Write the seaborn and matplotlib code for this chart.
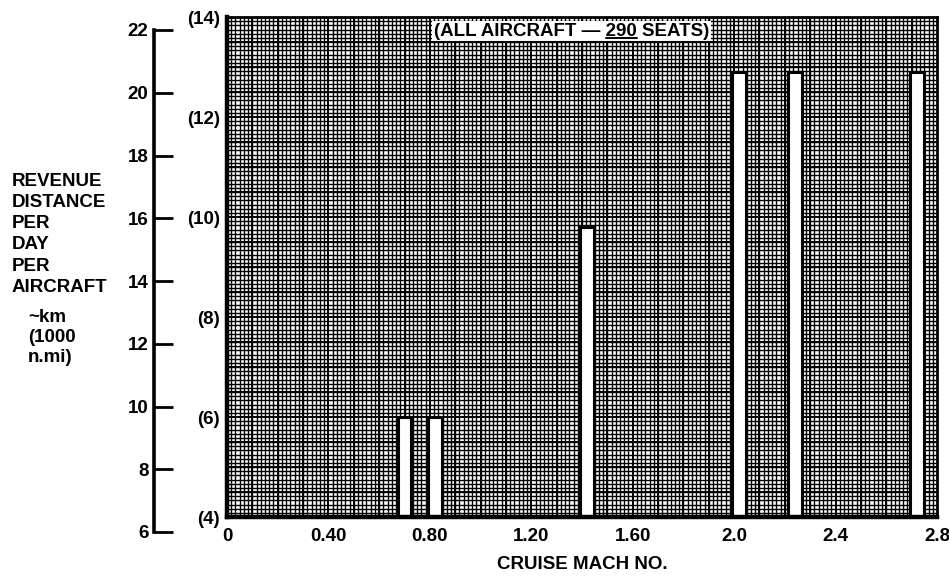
import matplotlib
matplotlib.use("Agg")
import matplotlib.pyplot as plt
from matplotlib.ticker import MultipleLocator
import numpy as np
import seaborn as sns

# data
mach = [0.70, 0.82, 1.42, 2.02, 2.24, 2.72]
dist_nmi = [6.0, 6.0, 9.8, 12.9, 12.9, 12.9]   # 1000 n.mi per day per aircraft
x_ticks = [0, 0.4, 0.8, 1.2, 1.6, 2.0, 2.4, 2.8]
x_labels = ["0", "0.40", "0.80", "1.20", "1.60", "2.0", "2.4", "2.8"]
nmi_ticks = [4, 6, 8, 10, 12, 14]
nmi_labels = ["(4)", "(6)", "(8)", "(10)", "(12)", "(14)"]
km_ticks = [6, 8, 10, 12, 14, 16, 18, 20, 22]

BAR_W = 0.055
FS = 13.5

sns.set_style("white")
plt.rcParams["font.family"] = ["Liberation Sans", "DejaVu Sans"]
plt.rcParams["font.weight"] = "bold"
for k in ["text.color", "axes.labelcolor", "xtick.color", "ytick.color"]:
    plt.rcParams[k] = "black"

W, H = 949, 576
fig = plt.figure(figsize=(W / 100, H / 100), dpi=100)

# main chart (graph paper)
ax = fig.add_axes([227 / W, 1 - 517 / H, (937 - 227) / W, 500 / H])
df_w = BAR_W / np.min(np.diff(np.unique(mach)))
sns.barplot(x=mach, y=dist_nmi, native_scale=True, width=df_w,
            color="white", edgecolor="black", linewidth=2.2, saturation=1,
            ax=ax)
for p in ax.patches:
    p.set_zorder(4)

ax.set_xlim(0, 2.8)
ax.set_ylim(4, 14)
ax.set_xticks(x_ticks)
ax.set_xticklabels(x_labels, fontsize=FS, fontweight="bold")
ax.set_yticks(nmi_ticks)
ax.set_yticklabels(nmi_labels, fontsize=FS, fontweight="bold")
ax.tick_params(axis="both", which="both", length=0)
ax.tick_params(axis="x", pad=8)
ax.tick_params(axis="y", pad=5)
ax.set_xlabel("CRUISE MACH NO.", fontsize=FS, fontweight="bold", labelpad=8)
ax.set_ylabel("")

# fine grid
ax.xaxis.set_minor_locator(MultipleLocator(0.1 / 6))
ax.yaxis.set_minor_locator(MultipleLocator(0.5 / 6))
ax.grid(which="minor", color="black", linewidth=1.0)
ax.grid(which="major", visible=False)
for xv in np.arange(0.1, 2.8, 0.1):
    ax.axvline(xv, color="black", linewidth=1.4, zorder=1.6)
for yv in np.arange(4.5, 14, 0.5):
    ax.axhline(yv, color="black", linewidth=1.4, zorder=1.6)

for side in ["left", "bottom"]:
    ax.spines[side].set_linewidth(3.2)
for side in ["top", "right"]:
    ax.spines[side].set_linewidth(2)
for s in ax.spines.values():
    s.set_color("black")
    s.set_zorder(5)

# boxed note, with "290" underlined
note_pre, note_num = "(ALL AIRCRAFT — ", "290"
t = ax.text(0.2915, 0.972, note_pre + note_num + " SEATS)",
            transform=ax.transAxes, fontsize=FS, fontweight="bold",
            ha="left", va="center", zorder=6,
            bbox=dict(facecolor="white", edgecolor="none", pad=1.2))
fig.canvas.draw()
r = fig.canvas.get_renderer()
bb = t.get_window_extent(r)
probe = ax.text(0, 0, note_pre, fontsize=FS, fontweight="bold")
w_pre = probe.get_window_extent(r).width
probe.set_text(note_pre + note_num)
w_num = probe.get_window_extent(r).width
probe.remove()
inv = fig.transFigure.inverted()
(x0, y0), (x1, _) = inv.transform([(bb.x0 + w_pre, bb.y0 + 2), (bb.x0 + w_num, bb.y0 + 2)])
fig.add_artist(plt.Line2D([x0, x1], [y0, y0], color="black", linewidth=1.4, zorder=7))

# outer km scale
ax2 = fig.add_axes([154 / W, 1 - 532 / H, 0.001, 502 / H])
ax2.set_ylim(6, 22)
ax2.set_yticks(km_ticks)
ax2.set_yticklabels([str(v) for v in km_ticks], fontsize=FS, fontweight="bold")
ax2.tick_params(axis="y", left=True, direction="in", length=13.5, width=2.0,
                pad=4, color="black")
ax2.set_xticks([])
ax2.patch.set_visible(False)
for side in ["top", "right", "bottom"]:
    ax2.spines[side].set_visible(False)
ax2.spines["left"].set_linewidth(2.6)
ax2.spines["left"].set_color("black")

# axis title
fig.text(12 / W, 1 - 172.5 / H, "REVENUE\nDISTANCE\nPER\nDAY\nPER\nAIRCRAFT",
         fontsize=FS, fontweight="bold", ha="left", va="top", linespacing=1.33)
fig.text(28 / W, 1 - 309 / H, "~km\n(1000\nn.mi)",
         fontsize=FS, fontweight="bold", ha="left", va="top", linespacing=1.22)

fig.savefig("out.png", dpi=100)
